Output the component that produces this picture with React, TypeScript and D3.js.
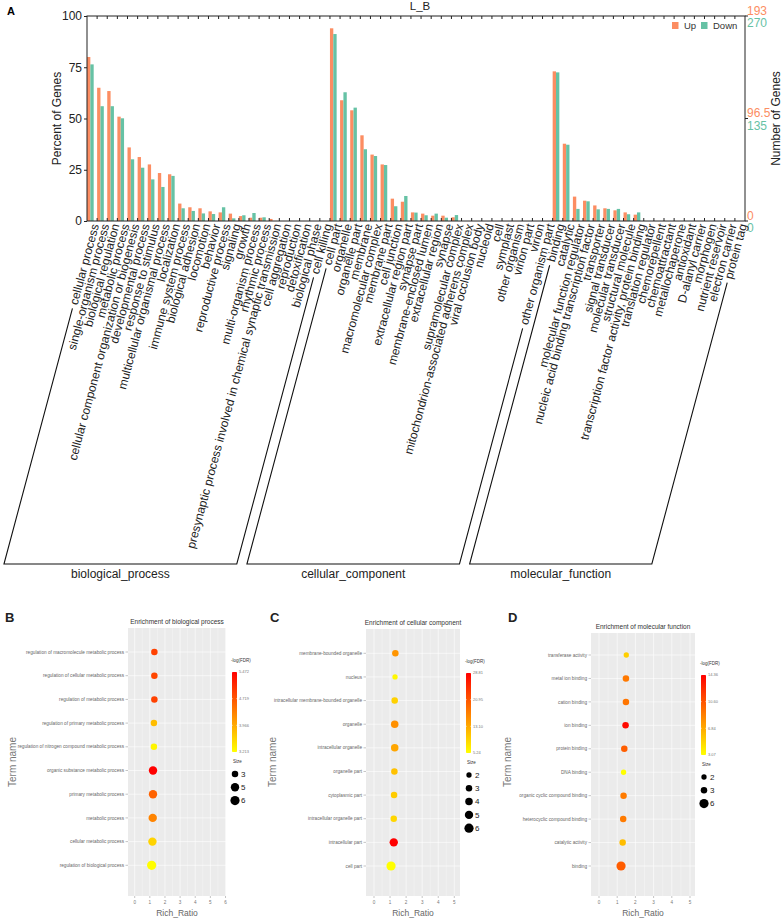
import React, { useEffect, useRef } from 'react';
import * as d3 from 'd3';

// ---- Panel A: GO level-2 classification (percent of genes) ----
const bpTerms = ['cellular process', 'single-organism process', 'biological regulation', 'metabolic process',
    'cellular component organization or biogenesis', 'developmental process', 'response to stimulus',
    'multicellular organismal process', 'localization', 'immune system process', 'biological adhesion',
    'locomotion', 'behavior', 'reproductive process', 'signaling', 'growth', 'multi-organism process',
    'rhythmic process', 'presynaptic process involved in chemical synaptic transmission', 'cell aggregation',
    'reproduction', 'detoxification', 'biological phase', 'cell killing'];
const bpUp = [80, 65, 63.4, 50.9, 35.9, 31.2, 27.6, 23.4, 22.8, 8.5, 6.7, 6.2, 4.7, 4.2, 3.6, 2.4, 1.6, 1.6, 1.0, 0, 0, 0, 0, 0];
const bpDown = [76.4, 56, 56, 50.1, 30.1, 26, 20.3, 16.6, 22, 6.2, 4.9, 3.7, 3.4, 6.7, 1.3, 2.8, 3.9, 1.8, 0, 0, 0, 0, 0, 0];

const ccTerms = ['cell part', 'organelle', 'organelle part', 'membrane', 'macromolecular complex', 'membrane part',
    'cell junction', 'extracellular region part', 'synapse part', 'membrane-enclosed lumen', 'extracellular region',
    'synapse', 'supramolecular complex', 'mitochondrion-associated adherens complex', 'viral occlusion body',
    'nucleoid', 'cell', 'symplast', 'other organism', 'virion part', 'virion', 'other organism part'];
const ccUp = [94, 58.9, 54, 41.8, 32.4, 27.6, 10.9, 9.4, 4.2, 3.6, 2.6, 2.6, 1.8, 0, 0, 0, 0, 0, 0, 0, 0, 0];
const ccDown = [91.2, 62.8, 55.3, 35, 31.7, 27.3, 7.2, 12.2, 4.1, 2.8, 3.6, 1.6, 2.9, 0, 0, 0, 0, 0, 0, 0, 0, 0];

const mfTerms = ['binding', 'catalytic', 'molecular function regulator', 'nucleic acid binding transcription factor',
    'transporter', 'signal transducer', 'molecular transducer', 'structural molecule',
    'transcription factor activity, protein binding', 'translation regulator', 'chemorepellent', 'chemoattractant',
    'metallochaperone', 'antioxidant', 'D-alanyl carrier', 'morphogen', 'nutrient reservoir', 'electron carrier', 'protein tag'];
const mfUp = [73, 37.7, 11.9, 9.9, 7.6, 6.2, 5.2, 4.2, 3.1, 0, 0, 0, 0, 0, 0, 0, 0, 0, 0];
const mfDown = [72.5, 37.2, 5.9, 9.6, 5.7, 5.9, 5.9, 3.3, 4.2, 0, 0, 0, 0, 0, 0, 0, 0, 0, 0];

const percentTicks = [0, 25, 50, 75, 100];
const upCountTicks = ['0', '96.5', '193'];
const downCountTicks = ['0', '135', '270'];

// ---- Panels B-D: enrichment bubbles ----
const bTerms = ['regulation of macromolecule metabolic process', 'regulation of cellular metabolic process',
    'regulation of metabolic process', 'regulation of primary metabolic process',
    'regulation of nitrogen compound metabolic process', 'organic substance metabolic process',
    'primary metabolic process', 'metabolic process', 'cellular metabolic process', 'regulation of biological process'];
const bRatio = [1.30, 1.30, 1.30, 1.27, 1.27, 1.21, 1.21, 1.19, 1.17, 1.12];
const bFdr = [4.9, 4.85, 4.9, 3.8, 3.3, 5.47, 4.6, 4.3, 3.6, 3.22];
const bSize = [3, 3, 3, 3, 3, 5, 5, 5, 5, 6];
const bFdrTicks = ['5.472', '4.719', '3.966', '3.213'];
const bSizeTicks = [3, 5, 6];

const cTerms = ['membrane-bounded organelle', 'nucleus', 'intracellular membrane-bounded organelle', 'organelle',
    'intracellular organelle', 'organelle part', 'cytoplasmic part', 'intracellular organelle part',
    'intracellular part', 'cell part'];
const cRatio = [1.33, 1.31, 1.29, 1.29, 1.29, 1.27, 1.25, 1.23, 1.23, 1.06];
const cFdr = [15, 6, 9.5, 15.5, 13.5, 11, 10, 9, 28.81, 5.24];
const cSize = [3, 2, 3, 4, 4, 3, 3, 3, 5, 6];
const cFdrTicks = ['28.81', '20.95', '13.10', '5.24'];
const cSizeTicks = [2, 3, 4, 5, 6];

const dTerms = ['transferase activity', 'metal ion binding', 'cation binding', 'ion binding', 'protein binding',
    'DNA binding', 'organic cyclic compound binding', 'heterocyclic compound binding', 'catalytic activity', 'binding'];
const dRatio = [1.50, 1.48, 1.48, 1.46, 1.39, 1.35, 1.35, 1.33, 1.30, 1.21];
const dFdr = [5.2, 9, 9.2, 13.9, 10.2, 3.07, 8.9, 8.9, 6, 10.3];
const dSize = [2, 3, 3, 3, 3, 2, 3, 3, 3, 6];
const dFdrTicks = ['14.36', '10.60', '6.84', '3.07'];
const dSizeTicks = [2, 3, 6];

const UP = '#FC8D62';
const DOWN = '#66C2A5';
const FONT = '"Liberation Sans", Arial, sans-serif';

type Sel = d3.Selection<SVGSVGElement, unknown, null, undefined>;

function drawGo(svg: Sel) {
    const groups = [
        { name: 'biological_process', terms: bpTerms, up: bpUp, down: bpDown },
        { name: 'cellular_component', terms: ccTerms, up: ccUp, down: ccDown },
        { name: 'molecular_function', terms: mfTerms, up: mfUp, down: mfDown },
    ];
    const rows = groups.flatMap(g => g.terms.map((t, i) => ({ term: t, up: g.up[i], down: g.down[i] })));

    const left = 87, right = 745, top = 16, bottom = 221;
    const x = d3.scaleBand().domain(rows.map(d => d.term)).range([left, right]).padding(0);
    const sub = d3.scaleBand().domain(['Up', 'Down']).range([0, x.bandwidth() * 0.66]);
    const y = d3.scaleLinear().domain([0, 100]).range([bottom, top]);

    const g = svg.append('g').attr('font-family', FONT);

    // Bars
    g.selectAll('rect.up').data(rows).enter().append('rect')
        .attr('x', d => x(d.term)! + sub('Up')!)
        .attr('width', sub.bandwidth())
        .attr('y', d => y(d.up))
        .attr('height', d => bottom - y(d.up))
        .attr('fill', UP);
    g.selectAll('rect.down').data(rows).enter().append('rect')
        .attr('x', d => x(d.term)! + sub('Down')!)
        .attr('width', sub.bandwidth())
        .attr('y', d => y(d.down))
        .attr('height', d => bottom - y(d.down))
        .attr('fill', DOWN);

    // Frame + inner ticks
    g.append('rect').attr('x', left).attr('y', top).attr('width', right - left).attr('height', bottom - top)
        .attr('fill', 'none').attr('stroke', '#222').attr('stroke-width', 1);
    rows.slice(0, -1).forEach(d => {
        const tx = x(d.term)! + x.bandwidth();
        g.append('line').attr('x1', tx).attr('x2', tx).attr('y1', top).attr('y2', top + 3).attr('stroke', '#222');
        g.append('line').attr('x1', tx).attr('x2', tx).attr('y1', bottom).attr('y2', bottom - 3).attr('stroke', '#222');
    });

    // Left axis
    const la = g.append('g').attr('transform', `translate(${left},0)`)
        .call(d3.axisLeft(y).tickValues(percentTicks).tickSize(3).tickPadding(2));
    la.select('.domain').remove();
    la.selectAll('text').attr('font-size', 12).attr('font-family', FONT).attr('fill', '#222');
    la.selectAll('line').attr('stroke', '#222');

    g.append('text').attr('transform', `translate(57,${(top + bottom) / 2}) rotate(-90)`)
        .attr('text-anchor', 'middle').attr('dy', '0.35em').attr('font-size', 12).attr('fill', '#222')
        .text('Percent of Genes');

    // Right axes (up / down counts)
    const yUp = d3.scaleLinear().domain([0, 193]).range([bottom, top]);
    upCountTicks.forEach((t, i) => {
        const ty = yUp(+t);
        g.append('line').attr('x1', right).attr('x2', right + 3).attr('y1', ty).attr('y2', ty).attr('stroke', '#222');
        g.append('text').attr('x', right + 2).attr('y', ty - 5.5).attr('dy', '0.35em')
            .attr('font-size', 12).attr('fill', UP).text(t);
        g.append('text').attr('x', right + 2).attr('y', ty + 7).attr('dy', '0.35em')
            .attr('font-size', 12).attr('fill', DOWN).text(downCountTicks[i]);
    });
    g.append('text').attr('transform', `translate(776,${(top + bottom) / 2}) rotate(-90)`)
        .attr('text-anchor', 'middle').attr('dy', '0.35em').attr('font-size', 12).attr('fill', '#222')
        .text('Number of Genes');

    // Title, legend, panel letter
    g.append('text').attr('x', 420).attr('y', 10).attr('text-anchor', 'middle').attr('font-size', 11.5)
        .attr('fill', '#222').text('L_B');
    g.append('text').attr('x', 7).attr('y', 15).attr('font-size', 11).attr('font-weight', 'bold').text('A');
    const leg = g.append('g').attr('font-size', 9.5).attr('fill', '#333');
    leg.append('rect').attr('x', 672).attr('y', 22).attr('width', 6.5).attr('height', 7).attr('fill', UP);
    leg.append('text').attr('x', 684).attr('y', 29).text('Up');
    leg.append('rect').attr('x', 701).attr('y', 22).attr('width', 6.5).attr('height', 7).attr('fill', DOWN);
    leg.append('text').attr('x', 713).attr('y', 29).text('Down');

    // Rotated category labels
    const ang = 75 * Math.PI / 180;
    const dir = [-Math.cos(ang), Math.sin(ang)];
    const labelY = 224;
    const baseY = 564;
    const anchorX = (t: string) => x(t)! + x.bandwidth() / 2 + 3;
    const lens: Record<string, number> = {};
    rows.forEach(d => {
        const tnode = g.append('text')
            .attr('transform', `translate(${anchorX(d.term)},${labelY}) rotate(-75)`)
            .attr('text-anchor', 'end').attr('dy', '0.35em').attr('font-size', 12).attr('fill', '#222')
            .text(d.term);
        lens[d.term] = (tnode.node() as SVGTextElement).getComputedTextLength();
    });

    // Group brackets
    const gap = 4;
    const lineFor = (t: string) => {
        const s = lens[t] + gap;
        const x0 = anchorX(t) + dir[0] * s;
        const y0 = labelY + dir[1] * s;
        const k = (baseY - y0) / dir[1];
        return { x0, y0, x1: x0 + dir[0] * k, y1: baseY };
    };
    groups.forEach(gr => {
        const a = lineFor(gr.terms[0]);
        const b = lineFor(gr.terms[gr.terms.length - 1]);
        g.append('path')
            .attr('d', `M${a.x0},${a.y0}L${a.x1},${a.y1}L${b.x1},${b.y1}L${b.x0},${b.y0}`)
            .attr('fill', 'none').attr('stroke', '#111').attr('stroke-width', 1.1);
        g.append('text').attr('x', (a.x1 + b.x1) / 2).attr('y', 578).attr('text-anchor', 'middle')
            .attr('font-size', 12).attr('fill', '#222').text(gr.name);
    });
}

interface EnrichCfg {
    id: string; letter: string; letterX: number; title: string;
    terms: string[]; ratio: number[]; fdr: number[]; size: number[];
    fdrTicks: string[]; sizeTicks: number[]; xMax: number;
    px0: number; px1: number; zeroX: number; maxX: number; py0: number; py1: number; rowTop: number; rowBottom: number;
    termNameX: number; legX: number; legTop: number;
}

function drawEnrich(svg: Sel, c: EnrichCfg) {
    const g = svg.append('g').attr('font-family', FONT);
    const x = d3.scaleLinear().domain([0, c.xMax]).range([c.zeroX, c.maxX]);
    const y = d3.scalePoint().domain(c.terms).range([c.rowTop, c.rowBottom]);
    const fdrVals = c.fdrTicks.map(Number);
    const fMin = d3.min(fdrVals)!, fMax = d3.max(fdrVals)!;
    const color = d3.scaleLinear<string>().domain([fMin, fMax]).range(['#FFFF00', '#FF0000']);
    const r = d3.scaleSqrt().domain([0, 6]).range([0, 4.6]);

    g.append('rect').attr('x', c.px0).attr('y', c.py0).attr('width', c.px1 - c.px0).attr('height', c.py1 - c.py0)
        .attr('fill', '#EBEBEB');
    const ticks = d3.range(0, c.xMax + 1);
    d3.range(0.5, c.xMax, 1).forEach(v => {
        g.append('line').attr('x1', x(v)).attr('x2', x(v)).attr('y1', c.py0).attr('y2', c.py1)
            .attr('stroke', '#fff').attr('stroke-width', 0.3);
    });
    ticks.forEach(v => {
        g.append('line').attr('x1', x(v)).attr('x2', x(v)).attr('y1', c.py0).attr('y2', c.py1)
            .attr('stroke', '#fff').attr('stroke-width', 0.6);
        g.append('line').attr('x1', x(v)).attr('x2', x(v)).attr('y1', c.py1).attr('y2', c.py1 + 2)
            .attr('stroke', '#888').attr('stroke-width', 0.5);
        g.append('text').attr('x', x(v)).attr('y', c.py1 + 8).attr('text-anchor', 'middle')
            .attr('font-size', 4.6).attr('fill', '#777').text(v);
    });
    c.terms.forEach(t => {
        g.append('line').attr('x1', c.px0).attr('x2', c.px1).attr('y1', y(t)!).attr('y2', y(t)!)
            .attr('stroke', '#fff').attr('stroke-width', 0.6);
        g.append('line').attr('x1', c.px0 - 2.5).attr('x2', c.px0).attr('y1', y(t)!).attr('y2', y(t)!)
            .attr('stroke', '#888').attr('stroke-width', 0.5);
        g.append('text').attr('x', c.px0 - 4).attr('y', y(t)!).attr('dy', '0.35em').attr('text-anchor', 'end')
            .attr('font-size', 4.7).attr('fill', '#666').text(t);
    });

    g.selectAll('circle.pt').data(c.terms).enter().append('circle')
        .attr('cx', (_, i) => x(c.ratio[i]))
        .attr('cy', d => y(d)!)
        .attr('r', (_, i) => r(c.size[i]))
        .attr('fill', (_, i) => color(c.fdr[i]));

    // Titles
    g.append('text').attr('x', (c.px0 + c.px1) / 2).attr('y', c.py0 - 4).attr('text-anchor', 'middle')
        .attr('font-size', 6.5).attr('fill', '#333').text(c.title);
    g.append('text').attr('x', (c.px0 + c.px1) / 2).attr('y', 916).attr('text-anchor', 'middle')
        .attr('font-size', 8.5).attr('fill', '#666').text('Rich_Ratio');
    g.append('text').attr('transform', `translate(${c.termNameX},762) rotate(-90)`).attr('text-anchor', 'middle')
        .attr('dy', '0.35em').attr('font-size', 10).attr('fill', '#777').text('Term name');
    g.append('text').attr('x', c.letterX).attr('y', 622).attr('font-size', 13).attr('font-weight', 'bold')
        .attr('fill', '#222').text(c.letter);

    // Colour bar legend
    const lx = c.legX, ly = c.legTop;
    g.append('text').attr('x', lx - 1).attr('y', ly).attr('font-size', 4.5).attr('fill', '#333').text('-log(FDR)');
    const grad = svg.append('defs').append('linearGradient').attr('id', `grad-${c.id}`)
        .attr('x1', 0).attr('x2', 0).attr('y1', 0).attr('y2', 1);
    grad.append('stop').attr('offset', '0%').attr('stop-color', '#FF0000');
    grad.append('stop').attr('offset', '100%').attr('stop-color', '#FFFF00');
    const cb = d3.scaleLinear().domain([fMax, fMin]).range([ly + 10, ly + 90]);
    g.append('rect').attr('x', lx).attr('y', cb(fMax)).attr('width', 5).attr('height', cb(fMin) - cb(fMax))
        .attr('fill', `url(#grad-${c.id})`);
    c.fdrTicks.forEach(t => {
        const ty = cb(+t);
        g.append('line').attr('x1', lx).attr('x2', lx + 1).attr('y1', ty).attr('y2', ty).attr('stroke', '#fff').attr('stroke-width', 0.4);
        g.append('line').attr('x1', lx + 4).attr('x2', lx + 5).attr('y1', ty).attr('y2', ty).attr('stroke', '#fff').attr('stroke-width', 0.4);
        g.append('text').attr('x', lx + 7).attr('y', ty).attr('dy', '0.35em').attr('font-size', 4)
            .attr('fill', '#777').text(t);
    });

    // Size legend
    g.append('text').attr('x', lx + 1).attr('y', ly + 101).attr('font-size', 4.5).attr('fill', '#333').text('Size');
    const sy = d3.scalePoint<number>().domain(c.sizeTicks).range([ly + 112, ly + 112 + 13.3 * (c.sizeTicks.length - 1)]);
    c.sizeTicks.forEach(s => {
        g.append('circle').attr('cx', lx + 3).attr('cy', sy(s)!).attr('r', r(s)).attr('fill', '#000');
        g.append('text').attr('x', lx + 9).attr('y', sy(s)!).attr('dy', '0.35em').attr('font-size', 8)
            .attr('fill', '#222').text(s);
    });
}

export default function App() {
    const ref = useRef<SVGSVGElement>(null);

    useEffect(() => {
        const svg = d3.select(ref.current!) as Sel;
        svg.selectAll('*').remove();
        drawGo(svg);
        drawEnrich(svg, {
            id: 'b', letter: 'B', letterX: 5, title: 'Enrichment of biological process',
            terms: bTerms, ratio: bRatio, fdr: bFdr, size: bSize, fdrTicks: bFdrTicks, sizeTicks: bSizeTicks, xMax: 6,
            px0: 128, px1: 226, zeroX: 134.7, maxX: 225.5, py0: 628, py1: 896, rowTop: 652, rowBottom: 865.3,
            termNameX: 12, legX: 232, legTop: 662,
        });
        drawEnrich(svg, {
            id: 'c', letter: 'C', letterX: 270, title: 'Enrichment of cellular component',
            terms: cTerms, ratio: cRatio, fdr: cFdr, size: cSize, fdrTicks: cFdrTicks, sizeTicks: cSizeTicks, xMax: 5,
            px0: 366, px1: 460, zeroX: 374, maxX: 454.3, py0: 629, py1: 896, rowTop: 653.3, rowBottom: 866,
            termNameX: 272, legX: 466, legTop: 663,
        });
        drawEnrich(svg, {
            id: 'd', letter: 'D', letterX: 508, title: 'Enrichment of molecular function',
            terms: dTerms, ratio: dRatio, fdr: dFdr, size: dSize, fdrTicks: dFdrTicks, sizeTicks: dSizeTicks, xMax: 5,
            px0: 591, px1: 695, zeroX: 599, maxX: 690, py0: 633, py1: 896, rowTop: 655, rowBottom: 866,
            termNameX: 507, legX: 701, legTop: 665,
        });
    }, []);

    return (
        <svg ref={ref} width={784} height={919}
            style={{ position: 'absolute', left: 0, top: 0, background: '#fff' }} />
    );
}
